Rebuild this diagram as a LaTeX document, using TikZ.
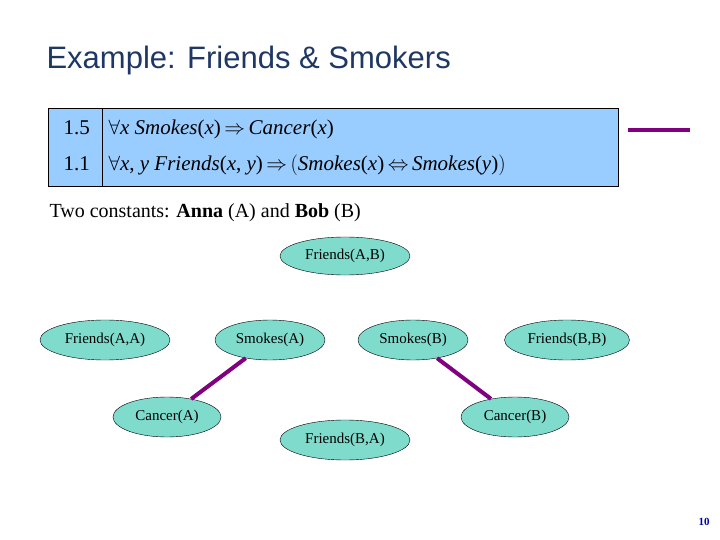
\documentclass[tikz,border=0pt]{standalone}
\usepackage{fontspec}
\setmainfont{Liberation Serif}
\newfontfamily\sansf{Liberation Sans}
\usetikzlibrary{shapes.geometric}
\definecolor{nodefill}{RGB}{127,219,204}
\definecolor{boxfill}{RGB}{153,204,255}
\definecolor{edgecol}{RGB}{128,0,128}
\definecolor{titlecol}{RGB}{30,55,100}
\begin{document}
\begin{tikzpicture}[x=1pt,y=-1pt,
  var/.style={ellipse,draw=black,fill=nodefill,inner sep=0pt,font=\fontsize{15}{17}\selectfont},
  link/.style={edgecol,line width=4pt}]
\useasboundingbox (0,0) rectangle (720,540);
\node[anchor=base west,font=\sansf\fontsize{31}{36}\selectfont,text=titlecol] (title) at (43,69) {Example: Friends \& Smokers};
\node[draw=black,fill=boxfill,minimum width=570pt,minimum height=78pt,anchor=north west,inner sep=0pt] (box) at (48,108) {};
\draw (102,108) -- (102,186);
\node[anchor=base west,font=\fontsize{21}{24}\selectfont] (w1) at (60,135) {1.5};
\node[anchor=base west,font=\fontsize{21}{24}\selectfont] (w2) at (60,171) {1.1};
\node[anchor=base west,font=\fontsize{21}{24}\selectfont] (f1) at (105,135) {$\forall$\textit{x Smokes}(\textit{x})\,$\Rightarrow$\,\textit{Cancer}(\textit{x})};
\node[anchor=base west,font=\fontsize{21}{24}\selectfont] (f2) at (105,171) {$\forall$\textit{x}, \textit{y Friends}(\textit{x}, \textit{y})\,$\Rightarrow$\,$\big($\textit{Smokes}(\textit{x})\,$\Leftrightarrow$\,\textit{Smokes}(\textit{y})$\big)$};
\coordinate (l1) at (628,130); \coordinate (l2) at (690,130);
\draw[link] (l1) -- (l2);
\node[anchor=base west,font=\fontsize{20}{24}\selectfont] (consts) at (46,218) {Two constants: \textbf{Anna} (A) and \textbf{Bob} (B)};
\node[var,minimum width=130pt,minimum height=38pt] (fab) at (345,256) {Friends(A,B)};
\node[var,minimum width=130pt,minimum height=40pt] (faa) at (105,340) {Friends(A,A)};
\node[var,minimum width=110pt,minimum height=40pt] (sa) at (270,340) {Smokes(A)};
\node[var,minimum width=110pt,minimum height=40pt] (sb) at (413,340) {Smokes(B)};
\node[var,minimum width=125pt,minimum height=40pt] (fbb) at (567,340) {Friends(B,B)};
\node[var,minimum width=108pt,minimum height=40pt] (ca) at (167,417) {Cancer(A)};
\node[var,minimum width=108pt,minimum height=40pt] (cb) at (515,417) {Cancer(B)};
\node[var,minimum width=130pt,minimum height=40pt] (fba) at (345,440) {Friends(B,A)};
\draw[link] (sa) -- (ca);
\draw[link] (sb) -- (cb);
\node[font=\bfseries\fontsize{11}{12}\selectfont,text=blue!70!black] (pg) at (704,522) {10};
\end{tikzpicture}
\end{document}
